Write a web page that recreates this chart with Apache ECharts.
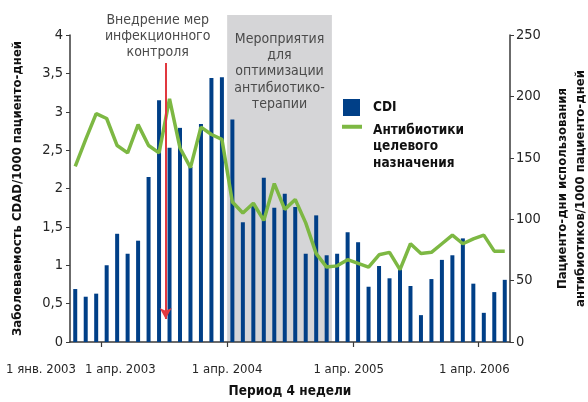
<!DOCTYPE html>
<html>
<head>
<meta charset="utf-8">
<script src="https://cdn.jsdelivr.net/npm/echarts@6/dist/echarts.min.js"></script>
<style>
  html, body { margin: 0; padding: 0; background: #fff; }
  #chart { width: 588px; height: 402px; }
</style>
</head>
<body>
<div id="chart"></div>
<script>
// 4-week periods, Jan 2003 .. mid 2006
const periods = ['1', '2', '3', '4', '5', '6', '7', '8', '9', '10', '11', '12', '13', '14',
  '15', '16', '17', '18', '19', '20', '21', '22', '23', '24', '25', '26', '27', '28',
  '29', '30', '31', '32', '33', '34', '35', '36', '37', '38', '39', '40', '41', '42']

// CDAD per 1000 patient-days (left axis)
const cdi = [0.69, 0.59, 0.63, 1.0, 1.41, 1.15, 1.32, 2.15, 3.15, 2.53, 2.79, 2.28, 2.84, 3.44,
  3.45, 2.9, 1.56, 1.8, 2.14, 1.75, 1.93, 1.76, 1.15, 1.65, 1.13, 1.15, 1.43, 1.3,
  0.72, 0.99, 0.83, 0.98, 0.73, 0.35, 0.82, 1.07, 1.13, 1.35, 0.76, 0.38, 0.65, 0.81]

// targeted antibiotics, patient-days per 1000 patient-days (right axis)
const antibiotics = [143, 165, 186, 182, 160, 154, 177, 160, 154, 198, 158, 142, 175, 169,
  165, 114, 105, 113, 99, 129, 108, 116, 97, 72, 61, 62, 67, 64,
  61, 71, 73, 59, 80, 72, 73, 80, 87, 80, 84, 87, 74, 74]

// date ticks sit on period boundaries; labels are set a little off the ticks as in the source
const dateTickPos = [3, 15, 27, 39]
const dateLabelPos = [4.8, 15, 26.6, 38.6]
const dateLabels = ['1 апр. 2003', '1 апр. 2004', '1 апр. 2005', '1 апр. 2006']
const startLabel = '1 янв. 2003'

// annotations (period boundaries / positions)
const infectionControlAt = 9.13
const stewardshipRange = [15, 25]

const font = '"Liberation Sans Narrow", "DejaVu Sans Condensed", "Roboto", sans-serif'
const blue = '#003f87'
const green = '#7db843'
const axisColor = '#3a3a3a'
const textColor = '#262626'
const abxName = 'Антибиотики целевого назначения'

const chart = echarts.init(document.getElementById('chart'))

chart.setOption({
  animation: false,
  backgroundColor: '#fff',
  textStyle: { fontFamily: font },
  grid: { left: 70, right: 78, top: 35, bottom: 60, outerBoundsMode: 'none', containLabel: false },
  legend: [
    {
      data: [{ name: 'CDI', icon: 'rect' }],
      left: 343,
      top: 99,
      padding: 0,
      itemWidth: 17,
      itemHeight: 17,
      textStyle: { fontFamily: font, fontSize: 13.5, fontWeight: 'bold', color: '#111', padding: [0, 0, 0, 8] }
    },
    {
      data: [{ name: abxName, icon: 'rect', itemStyle: { color: green } }],
      // two blank lines on top keep the icon level with the first text line
      formatter: () => '{s|\u00a0}\n{s|\u00a0}\n{t|Антибиотики}\n{t|целевого}\n{t|назначения}',
      left: 342,
      top: 85,
      padding: 0,
      itemWidth: 20,
      itemHeight: 4,
      textStyle: {
        fontFamily: font, fontSize: 13.5, fontWeight: 'bold', color: '#111',
        padding: [0, 0, 0, 6],
        rich: {
          s: { fontSize: 13.5, lineHeight: 20 },
          t: { fontFamily: font, fontSize: 13.5, fontWeight: 'bold', color: '#111', lineHeight: 16.5 }
        }
      }
    }
  ],
  xAxis: [
    {
      type: 'category',
      data: periods,
      boundaryGap: true,
      axisLine: { lineStyle: { color: axisColor, width: 1.5 } },
      axisTick: { show: false },
      axisLabel: { show: false }
    },
    {
      type: 'value',
      min: 0,
      max: periods.length,
      position: 'bottom',
      name: 'Период 4 недели',
      nameLocation: 'middle',
      nameGap: 42,
      nameTextStyle: { fontFamily: font, fontSize: 13.5, fontWeight: 'bold', color: '#111' },
      splitLine: { show: false },
      axisLine: { show: false },
      axisTick: { show: true, customValues: dateTickPos, length: 5, lineStyle: { color: axisColor, width: 1.2 } },
      axisLabel: {
        customValues: dateLabelPos,
        hideOverlap: false,
        margin: 21,
        color: textColor,
        fontFamily: font,
        fontSize: 13,
        formatter: (v) => {
          const i = dateLabelPos.indexOf(v)
          return i < 0 ? '' : dateLabels[i]
        }
      }
    }
  ],
  yAxis: [
    {
      type: 'value',
      min: 0,
      max: 4,
      interval: 0.5,
      name: 'Заболеваемость CDAD/1000 пациенто-дней',
      nameLocation: 'middle',
      nameGap: 46,
      nameTextStyle: { fontFamily: font, fontSize: 13, fontWeight: 'bold', color: '#111' },
      splitLine: { show: false },
      axisLine: { show: true, lineStyle: { color: axisColor, width: 1.5 } },
      axisTick: { show: true, length: 4, lineStyle: { color: axisColor } },
      axisLabel: {
        margin: 7,
        color: textColor,
        fontFamily: font,
        fontSize: 14.5,
        formatter: (v) => String(v).replace('.', ',')
      }
    },
    {
      type: 'value',
      min: 0,
      max: 250,
      interval: 50,
      position: 'right',
      name: 'Пациенто-дни использования\nантибиотиков/1000 пациенто-дней',
      nameLocation: 'middle',
      nameGap: 44,
      nameTextStyle: { fontFamily: font, fontSize: 13, fontWeight: 'bold', color: '#111', lineHeight: 18 },
      splitLine: { show: false },
      axisLine: { show: true, lineStyle: { color: axisColor, width: 1.5 } },
      axisTick: { show: true, length: 4, lineStyle: { color: axisColor } },
      axisLabel: { margin: 6, color: textColor, fontFamily: font, fontSize: 14.5 }
    }
  ],
  series: [
    {
      name: 'arrow',
      type: 'line',
      xAxisIndex: 1,
      yAxisIndex: 0,
      data: [],
      clip: false,
      silent: true,
      markLine: {
        silent: true,
        z: 20,
        label: { show: false },
        lineStyle: { color: '#e1383f', width: 2, type: 'solid' },
        symbolSize: [9, 11],
        data: [[
          { coord: [infectionControlAt, 3.635], symbol: 'none' },
          { coord: [infectionControlAt, 0.3], symbol: 'arrow' }
        ]]
      }
    },
    {
      name: 'CDI',
      type: 'bar',
      xAxisIndex: 0,
      yAxisIndex: 0,
      data: cdi,
      barWidth: 4,
      itemStyle: { color: blue },
      z: 2
    },
    {
      name: abxName,
      type: 'line',
      xAxisIndex: 0,
      yAxisIndex: 1,
      data: antibiotics,
      symbol: 'none',
      lineStyle: { color: green, width: 3.5 },
      itemStyle: { color: green },
      z: 3
    }
  ]
})

// shaded stewardship period reaches above the plot top, so place it from the axes
const x0 = chart.convertToPixel({ xAxisIndex: 1 }, stewardshipRange[0])
const x1 = chart.convertToPixel({ xAxisIndex: 1 }, stewardshipRange[1])
const yBottom = chart.convertToPixel({ yAxisIndex: 0 }, 0)
const yTop = chart.convertToPixel({ yAxisIndex: 0 }, 4.26)
const arrowX = chart.convertToPixel({ xAxisIndex: 1 }, infectionControlAt)
const startX = chart.convertToPixel({ xAxisIndex: 1 }, 0)

chart.setOption({
  graphic: [
    {
      type: 'rect',
      z: -10,
      silent: true,
      shape: { x: x0, y: yTop, width: x1 - x0, height: yBottom - yTop },
      style: { fill: '#d5d5d7' }
    },
    {
      type: 'text',
      z: 10,
      silent: true,
      style: {
        x: arrowX - 8,
        y: 12,
        text: 'Внедрение мер\nинфекционного\nконтроля',
        align: 'center',
        verticalAlign: 'top',
        fontFamily: font,
        fontSize: 14,
        lineHeight: 16,
        fill: '#4a4a4a'
      }
    },
    {
      type: 'text',
      z: 10,
      silent: true,
      style: {
        x: (x0 + x1) / 2,
        y: 31,
        text: 'Мероприятия\nдля\nоптимизации\nантибиотико-\nтерапии',
        align: 'center',
        verticalAlign: 'top',
        fontFamily: font,
        fontSize: 14,
        lineHeight: 16.3,
        fill: '#4a4a4a'
      }
    },
    {
      // first date label hangs left of the axis start in the source
      type: 'text',
      silent: true,
      style: {
        x: startX - 29,
        y: yBottom + 21,
        text: startLabel,
        align: 'center',
        verticalAlign: 'top',
        fontFamily: font,
        fontSize: 13,
        fill: textColor
      }
    }
  ]
})
</script>
</body>
</html>
